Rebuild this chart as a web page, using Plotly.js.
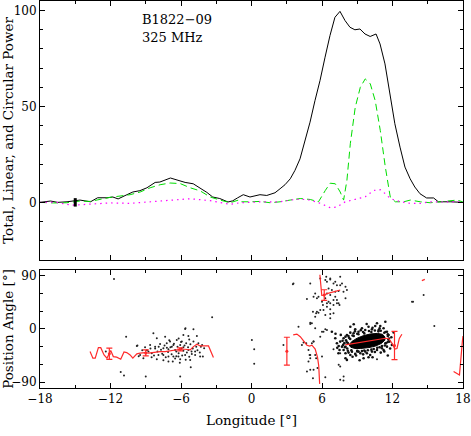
<!DOCTYPE html>
<html>
<head>
<meta charset="utf-8">
<script src="https://cdn.plot.ly/plotly-3.0.1.min.js"></script>
<style>body{margin:0;background:#fff}</style>
</head>
<body>
<div id="pulsarPlot" style="width:471px;height:436px"></div>
<script>
// B1822-09 at 325 MHz: polarisation profile (top) and position angles (bottom)

// --- top panel: total, linear and circular power vs longitude
const totalLon = [-18, -17.1, -16.5, -15.7, -14.6, -13.7, -13.1, -12.3, -11.8, -11.35, -10.6, -10.1, -9.5, -8.9, -8.2, -7.8, -6.9, -6.35, -5.65, -4.96, -4.4, -3.8, -3.3, -2.7, -2.0, -1.6, -1.2, -0.7, -0.13, 0.72, 1.3, 2.0, 2.43, 2.85, 3.3, 3.7, 4.13, 4.55, 4.98, 5.4, 5.83, 6.26, 6.68, 7.1, 7.53, 7.96, 8.38, 8.8, 9.23, 9.66, 10.1, 10.6, 10.94, 11.36, 11.79, 12.2, 12.64, 13.06, 13.5, 13.9, 14.34, 14.9, 15.5, 15.9, 16.9, 18];
const totalPow = [0, 0.7, 0, 0.3, 1.2, 0.3, 2.4, 2.4, 2.8, 1.8, 4, 5.4, 6.1, 7.6, 10.4, 10.6, 12.7, 11.8, 10.4, 9.7, 7.6, 5.2, 2.8, 2, 0.2, 0.8, 2.3, 4, 2.8, 4, 3.6, 5, 7.1, 9.2, 12.3, 16.7, 22.7, 32.3, 41.8, 53, 63.5, 75.7, 87, 96.5, 99.6, 94.8, 91.3, 90, 90.4, 87.8, 86.5, 87.8, 82.6, 72.2, 56.6, 41, 28.8, 18.4, 12.3, 8, 4.5, 2.3, 2.3, 0.3, 0.3, 0];

const linearLon = [-18, -16.87, -15.73, -14.6, -13.74, -12.9, -12.04, -11.19, -10.33, -9.48, -8.63, -7.78, -6.93, -6.07, -5.22, -4.37, -3.52, -2.67, -1.82, -1.11, -0.96, -0.11, 0.74, 1.59, 2.44, 3.29, 4.15, 5.0, 5.7, 6.28, 6.7, 7.13, 7.55, 7.84, 8.12, 8.41, 8.83, 9.26, 9.68, 10.11, 10.53, 10.96, 11.39, 11.81, 12.24, 12.95, 13.52, 14.37, 15.22, 16.07, 16.92, 17.49, 17.97];
const linearPow = [0, -0.3, -0.2, 0.7, 0.5, 1.6, 2.6, 3.3, 4, 5.4, 7.6, 9.2, 10.1, 9.8, 7.6, 6, 2.8, 1.2, -0.2, 1.2, 0.3, 0.3, 0.5, -0.2, 0.3, 1.2, 2, 1.5, 0.3, 6.2, 10, 9.7, 5.4, 1.2, 11.5, 30.6, 49.6, 60, 64.4, 61.8, 53, 37.5, 18.4, 2.8, 0.3, 0.3, 1.2, 0.3, -0.2, 0.3, 0.7, 1.2, 0.3];

const circLon = [-18, -16.55, -15.3, -13.74, -12.04, -10.33, -8.63, -6.93, -5.22, -3.52, -1.82, -0.96, 0.74, 2.44, 3.29, 4.15, 5.0, 5.85, 6.7, 7.27, 7.98, 8.83, 9.68, 10.4, 10.96, 11.39, 11.81, 12.67, 13.52, 14.37, 15.22, 16.35, 17.97];
const circPow = [0, 0, -1.5, -1, -0.3, -0.5, 0.2, 1.2, 1.9, 0.9, -1, -0.2, 0.3, 0.3, 1.2, 1.7, 1.2, -0.5, -2.8, -2.4, 0.3, 1.6, 2.9, 6.2, 6.6, 4.5, 2, 0.3, -0.5, -0.5, 0.3, 0.3, 0.3];

// off-pulse noise bar
const noiseLon = [-15];
const noiseLevel = [0];
const noiseErr = [2.2];

// --- bottom panel: single-pulse position angles [lon, PA]
const leftPulses = [
  [-11.7, 84.5], [-10.67, -13], [-11.13, -73], [-10.85, -79], [-9.0, -80.6], [-6.07, -80.6], [-5.17, -64.8],
  [-3.35, 19.8], [-5.62, 1.2], [-4.94, -0.5], [-9.76, -28.7], [-8.35, -7.3], [-4.14, -46.8], [-12.4, -38.3],
  [-9.71, -28], [-5.65, 0], [-5.8, -10], [-5.37, -11.8], [-4.65, -11.8], [-7.35, -13], [-8.06, -15.7],
  [-6.93, -21.4], [-6.36, -18.6], [-5.93, -21.4], [-5.56, -24.2], [-4.94, -21.4], [-4.52, -24.2],
  [-8.63, -27], [-7.78, -25.3], [-7.21, -24.2], [-6.65, -27], [-6.07, -27], [-6.78, -29.9], [-8.2, -29.9],
  [-9.06, -31], [-7.5, -32.6], [-7.07, -34.3], [-6.5, -35.5], [-5.8, -31], [-5.37, -35.5], [-4.8, -38.3],
  [-8.77, -38.3], [-8.49, -41], [-7.92, -44], [-7.5, -44], [-7.07, -46.8], [-6.65, -46.8], [-6.22, -46.8],
  [-5.65, -44], [-5.08, -42.2], [-8.06, -51.2], [-7.07, -55.2], [-6.07, -51.2], [-5.22, -52.4], [-4.37, -46.8],
  [-4.31, -29.9], [-4.03, -32.6], [-9.2, -49.5], [-9.48, -44],
  [-8.9, -36], [-8.6, -33], [-8.3, -45], [-8.0, -38], [-7.9, -30], [-7.6, -42], [-7.4, -28], [-7.3, -48],
  [-7.1, -39], [-6.9, -31], [-6.8, -43], [-6.6, -25], [-6.5, -50], [-6.4, -38], [-6.3, -30], [-6.2, -41],
  [-6.0, -22], [-5.9, -45], [-5.8, -37], [-5.7, -28], [-5.5, -40], [-5.4, -31], [-5.3, -47], [-5.2, -26],
  [-5.1, -38], [-5.0, -33], [-4.8, -44], [-4.7, -30], [-4.6, -36], [-4.4, -40], [-4.2, -27], [-7.7, -35],
  [-7.5, -53], [-6.7, -55], [-6.1, -57], [-5.6, -52], [-7.0, -19], [-6.2, -16], [-5.3, -18], [-8.5, -48],
  [-9.3, -36], [-9.6, -46], [-8.2, -33], [-7.2, -32], [-6.4, -46], [-5.95, -33]
];

const midPulses = [
  [0.03, -18.6], [0.23, -34.3], [0.23, -59], [2.72, -27], [3.52, 76], [5.0, 77.2], [4.0, 3.9], [5.0, 10.6],
  [6.28, -0.6], [6.0, -4.6], [4.29, -27], [4.66, -24.2], [5.28, -21.4], [4.94, -44], [5.0, -49.5], [5.5, -49.5],
  [5.0, -69], [5.62, -66.2], [6.28, -81.6], [5.23, -83.3], [7.42, -60.8], [7.55, -86], [7.83, -87.3],
  [5.23, 29.2], [5.7, 27.5], [6.13, 32.1], [5.14, 9.6], [6.42, 43.4], [7.27, 43.4], [6.98, 26.5], [6.7, 18.1],
  [5.57, 29.2], [6.28, 23.6], [6.7, 25.3], [5.0, 8.4], [5.42, 1.2], [5.85, -13], [6.13, -4.6], [6.42, -1.7],
  [5.28, -21.4], [5.14, -24.2], [4.43, -23.1], [4.85, -35.5], [5.0, -44], [5.42, -44], [4.85, -55.2],
  [5.28, -69.2], [4.72, -72.1], [6.0, -46.8], [7.84, -80.6], [7.55, -63.7], [6.98, -34.3], [7.55, -41],
  [10.68, -51.2], [13.75, 46.1], [14.65, 57.4], [15.56, 5.1], [13.66, 46.1]
];

const upperPulses = [
  [3.57, 77.2], [6.36, 88.4], [6.7, 85.6], [7.55, 88.4], [6.42, 79.9], [6.98, 77.2], [7.27, 74.3], [7.7, 77.2],
  [8.0, 71.5], [6.56, 68.8], [6.84, 65.9], [7.13, 63], [7.41, 64.2], [7.83, 63], [6.42, 60.3], [6.7, 57.4],
  [7.13, 54.6], [6.28, 51.9], [5.57, 51.9], [5.28, 54.6], [4.72, 50.7], [6.0, 46.1], [6.56, 46.1], [6.08, 40.5],
  [7.27, 49], [8.0, 51.9], [7.49, 40.5], [8.12, 65.9], [5.85, 85.6], [6.28, 82.8], [6.7, 83.9], [7.13, 79.9],
  [7.55, 74.3], [5.42, 60.3], [5.7, 54.6], [6.98, 49], [7.41, 43.4], [6.42, 37.7], [5.85, 32.1], [6.7, 33.3],
  [5.5, 26.5], [5.42, 20.8], [6.7, 43.4], [6.98, 40.5]
];

const clusterPulses = [
  [7.55, -21.4], [7.7, -29.9], [7.84, -35.5], [7.49, -35.5], [8.0, -41], [8.41, -44], [8.83, -42.2], [9.26, -41],
  [9.82, -41], [10.25, -38.3], [10.68, -35.5], [11.1, -32.6], [11.53, -29.9], [9.54, -49.5], [8.12, -52.4],
  [8.41, 3.9], [8.83, -0.6], [9.4, 1.2], [9.96, 3.9], [10.53, 5.1], [10.96, 5.1], [11.24, 1.2], [11.53, -4.6],
  [11.67, -10.1], [11.75, -21.4], [7.84, -15.7], [8.12, -10.1], [8.41, -6.2], [7.27, -24.2], [7.13, -15.7],
  [6.84, -4.6], [8.0, -49.5], [9.96, -47.8], [9.11, -4.6], [9.68, -1.7], [10.25, -0.6], [10.82, -1.7],
  [8.69, -7.3], [11.24, -35.5], [11.39, -24.2], [8.26, -40], [9.11, -38.3], [9.68, -38.3], [7.9, -24],
  [7.95, -31], [8.05, -19], [8.2, -37], [8.55, -38.5], [9.0, -36.8], [9.4, -37.5], [9.9, -36], [10.4, -34],
  [10.9, -31], [11.35, -28], [11.6, -22], [11.7, -16], [11.6, -9], [11.4, -5], [11.0, -3], [10.5, -2.5],
  [10.0, -3.5], [9.5, -5], [9.0, -8], [8.6, -11], [8.3, -15], [8.1, -22], [10.68, 9.6], [11.39, 12.3],
  [8.9, -45], [10.1, -44], [11.0, -40], [11.8, -33], [7.6, -10], [7.4, -41], [7.42, -28.7], [8.0, -13],
  [8.0, -30], [8.2, -24], [8.4, -17], [8.7, -12], [9.1, -9], [9.6, -7.5], [10.2, -5], [10.8, -4], [11.3, -6.5],
  [11.6, -12], [11.65, -18], [11.45, -24], [11.1, -29], [10.7, -32], [10.2, -35], [9.6, -36.5], [9.0, -38],
  [8.5, -36], [8.15, -33], [7.8, -27], [7.75, -20], [8.25, -12], [8.8, -4], [9.3, -2], [10.3, 2], [10.9, 1],
  [11.9, -14], [11.95, -27], [11.3, -38], [10.5, -39], [9.5, -43], [8.6, -47], [7.3, -32], [7.15, -8],
  [12.1, -6], [9.2, -53], [10.3, -48], [11.6, -45], [8.7, 8], [9.8, 8.5]
];

// solid core of the dense cluster
const coreLon = [8.3, 8.55, 9.0, 9.5, 10.1, 10.7, 11.15, 11.35, 11.35, 11.05, 10.55, 10.0, 9.3, 8.8, 8.45, 8.3];
const corePA = [-27, -21, -15.5, -11.5, -8.5, -7.5, -9, -13.5, -19, -24.5, -29, -31.5, -33, -33, -31, -27];

// average position angle (null = gap)
const paLon = [-13.74, -13.5, -13.3, -13.03, -12.83, -12.55, -12.3, -12.1, -11.98, -11.76, -11.47, -11.13, -10.85, -10.62, -10.33, -10.1, -9.76, -9.48, -9.06, -8.77, -8.49, -8.2, -7.78, -7.35, -6.93, -6.5, -6.07, -5.65, -5.22, -4.94, -4.65, -4.37, -3.95, -3.66, -3.24, null,
  3.55, 3.86, 4.15, 4.43, 4.72, 4.94, 5.14, 5.42, 5.62, 5.72, 5.8, null,
  5.82, 5.98, 6.19, 6.42, 6.98, 7.55, null,
  7.98, 8.5, 9.0, 9.5, 10.0, 10.5, 11.0, 11.4, 11.7, 11.96, 12.2, 12.38, 12.58, 12.8, null,
  14.5, 14.75, null,
  17.2, 17.7, 17.95, 18];
const paMean = [-38.3, -49.5, -49.5, -31.6, -31.6, -44, -49.5, -42, -36.6, -46.8, -47.8, -51.2, -38.9, -40, -44, -49.5, -42.2, -41, -40, -41, -40, -38.9, -38.3, -38.3, -36.6, -35.5, -34.3, -34.3, -35.5, -29.9, -25.9, -28.7, -28.7, -28.7, -48.5, null,
  -10, -8.7, -13, -20.5, -27.5, -29, -27.5, -34, -48, -62, -93, null,
  92, 57, 57.5, 60, 63, 66, null,
  -27, -25.3, -23.6, -21.9, -20.2, -18.6, -17, -15.7, -16.5, -24.2, -34, -33, -16, -9, null,
  82, 84, null,
  -72, -78, -20, -12];

const paErrLon = [-12.1, -9.0, -6.07, 3.01, 6.19, 12.17];
const paErrMean = [-42, -40.5, -34.5, -37.7, 57.5, -28];
const paErr = [9.5, 5, 2.5, 23.7, 9, 24];

const sparsePulses = leftPulses.concat(midPulses, upperPulses);

const serif = 'DejaVu Serif, serif';
const red = '#ff2a2a';

const data = [
    {x: totalLon, y: totalPow, xaxis: 'x2', yaxis: 'y', type: 'scatter', mode: 'lines',
     line: {color: '#000', width: 1}},
    {x: linearLon, y: linearPow, xaxis: 'x2', yaxis: 'y', type: 'scatter', mode: 'lines',
     line: {color: '#00dd00', width: 1, dash: '7px,4px'}},
    {x: circLon, y: circPow, xaxis: 'x2', yaxis: 'y', type: 'scatter', mode: 'lines',
     line: {color: '#ff00ff', width: 1.2, dash: '1.5px,4px'}},
    {x: noiseLon, y: noiseLevel, xaxis: 'x2', yaxis: 'y', type: 'scatter', mode: 'markers',
     marker: {size: 1, color: '#000'},
     error_y: {type: 'data', array: noiseErr, color: '#000', thickness: 3, width: 0}},
    {x: coreLon, y: corePA, xaxis: 'x', yaxis: 'y2', type: 'scatter', mode: 'lines',
     fill: 'toself', fillcolor: '#000', line: {color: '#000', width: 1}},
    {x: clusterPulses.map(p => p[0]), y: clusterPulses.map(p => p[1]), xaxis: 'x', yaxis: 'y2',
     type: 'scatter', mode: 'markers', marker: {size: 2.6, color: '#111'}},
    {x: sparsePulses.map(p => p[0]), y: sparsePulses.map(p => p[1]), xaxis: 'x', yaxis: 'y2',
     type: 'scatter', mode: 'markers', marker: {size: 2, color: '#222'}},
    {x: paLon, y: paMean, xaxis: 'x', yaxis: 'y2', type: 'scatter', mode: 'lines',
     connectgaps: false, line: {color: red, width: 1.2}},
    {x: paErrLon, y: paErrMean, xaxis: 'x', yaxis: 'y2', type: 'scatter', mode: 'markers',
     marker: {size: 3, color: red},
     error_y: {type: 'data', array: paErr, color: red, thickness: 1.2, width: 3}}
];

const tickStyle = {
    ticks: 'inside', ticklen: 5, tickcolor: '#000', tickwidth: 1,
    showline: true, linecolor: '#000', linewidth: 1, mirror: 'ticks',
    showgrid: false, zeroline: false,
    tickfont: {family: serif, size: 12, color: '#000'}
};
const titleFont = {family: serif, size: 13.5, color: '#000'};

const layout = {
    width: 471, height: 436,
    margin: {l: 40, r: 8, t: 1, b: 48},
    paper_bgcolor: '#fff', plot_bgcolor: '#fff',
    showlegend: false,
    xaxis: Object.assign({}, tickStyle, {
        domain: [0, 1], anchor: 'y2', range: [-18, 18], tick0: 0, dtick: 6,
        minor: {dtick: 3, ticklen: 3, ticks: 'inside', tickcolor: '#000'},
        title: {text: 'Longitude [°]', font: titleFont, standoff: 10}
    }),
    xaxis2: Object.assign({}, tickStyle, {
        domain: [0, 1], anchor: 'y', matches: 'x', range: [-18, 18], tick0: 0, dtick: 6,
        showticklabels: false,
        minor: {dtick: 3, ticklen: 3, ticks: 'inside', tickcolor: '#000'}
    }),
    yaxis: Object.assign({}, tickStyle, {
        domain: [0.331, 1], anchor: 'x2', range: [-30, 105], tick0: 0, dtick: 50,
        minor: {dtick: 10, ticklen: 3, ticks: 'inside', tickcolor: '#000'},
        title: {text: 'Total, Linear, and Circular Power', font: titleFont, standoff: 4}
    }),
    yaxis2: Object.assign({}, tickStyle, {
        domain: [0, 0.305], anchor: 'x', range: [-100, 100], tick0: 0, dtick: 90,
        minor: {dtick: 30, ticklen: 3, ticks: 'inside', tickcolor: '#000'},
        title: {text: 'Position Angle [°]', font: titleFont, standoff: 4}
    }),
    annotations: [
        {x: -9.5, y: 95.4, xref: 'x2', yref: 'y', text: 'B1822−09', showarrow: false,
         xanchor: 'left', yanchor: 'middle', font: {family: serif, size: 13, color: '#000'}},
        {x: -9.5, y: 86.1, xref: 'x2', yref: 'y', text: '325 MHz', showarrow: false,
         xanchor: 'left', yanchor: 'middle', font: {family: serif, size: 13, color: '#000'}}
    ]
};

Plotly.newPlot('pulsarPlot', data, layout, {displayModeBar: false, staticPlot: true});
</script>
</body>
</html>
